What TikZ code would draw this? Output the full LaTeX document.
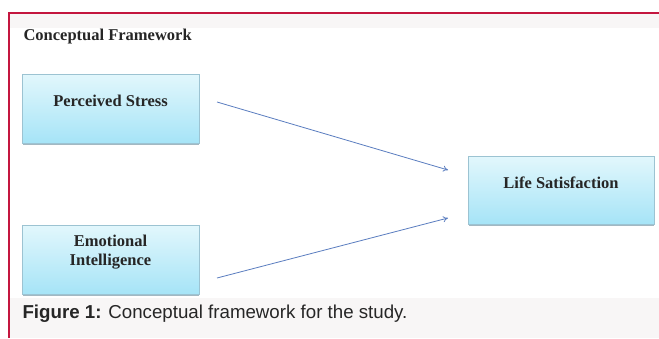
\documentclass[tikz,border=0pt]{standalone}
\usepackage{fontspec}
\setmainfont{Liberation Serif}
\newfontfamily\capfont{Liberation Sans}
\usetikzlibrary{arrows.meta}
\definecolor{frame}{HTML}{C4163F}
\definecolor{boxtop}{HTML}{E2F7FC}
\definecolor{boxbot}{HTML}{A6E4F7}
\definecolor{boxline}{HTML}{9CC3D2}
\definecolor{shade}{HTML}{7C9AA8}
\definecolor{arrowc}{HTML}{5A7DC0}
\definecolor{band}{HTML}{F8F6F6}
\tikzset{
  fbox/.style={rectangle, minimum width=177pt, minimum height=69pt, inner sep=0pt,
    top color=boxtop, bottom color=boxbot, draw=boxline, line width=0.6pt},
  lbl/.style={font=\fontsize{16.5}{18}\selectfont\bfseries, align=center, text=black!85},
  conn/.style={draw=arrowc, line width=0.8pt, -{To[length=5pt,width=6pt]}}
}
\begin{document}
\begin{tikzpicture}[x=1pt,y=-1pt]
\useasboundingbox (0,0) rectangle (659,338);
\fill[white] (0,0) rectangle (659,338);
\fill[band] (10,14) rectangle (659,28);
\fill[band] (10,298) rectangle (659,338);
\draw[frame, line width=1.3pt] (9,338) -- (9,13) -- (659,13);
\node[anchor=west, font=\fontsize{16.5}{18}\selectfont\bfseries, text=black!85] (title) at (20,37) {Conceptual Framework};
% shadows
\fill[shade!70] (23,142) rectangle (199,145);
\fill[shade!70] (23,293) rectangle (199,296);
\fill[shade!70] (469,223) rectangle (654,226);
\node[fbox] (ps) at (110.5,108.5) {};
\node[fbox] (ei) at (110.5,259.5) {};
\node[fbox, minimum width=186pt, minimum height=68pt] (ls) at (561,190) {};
\node[lbl] (pst) at (110.5,101) {Perceived Stress};
\node[lbl, font=\fontsize{16.5}{18.5}\selectfont\bfseries] (eit) at (110.5,252) {Emotional\\Intelligence};
\node[lbl] (lst) at (561,183) {Life Satisfaction};
\coordinate (a1) at (217,102);
\coordinate (a2) at (448,170);
\coordinate (b1) at (217,278);
\coordinate (b2) at (448,218);
\draw[conn] (a1) -- (a2);
\draw[conn] (b1) -- (b2);
\node[anchor=west, font=\capfont\fontsize{18.7}{20}\selectfont, text=black!85] (cap) at (19,314) {\textbf{Figure 1:} Conceptual framework for the study.};
\end{tikzpicture}
\end{document}
